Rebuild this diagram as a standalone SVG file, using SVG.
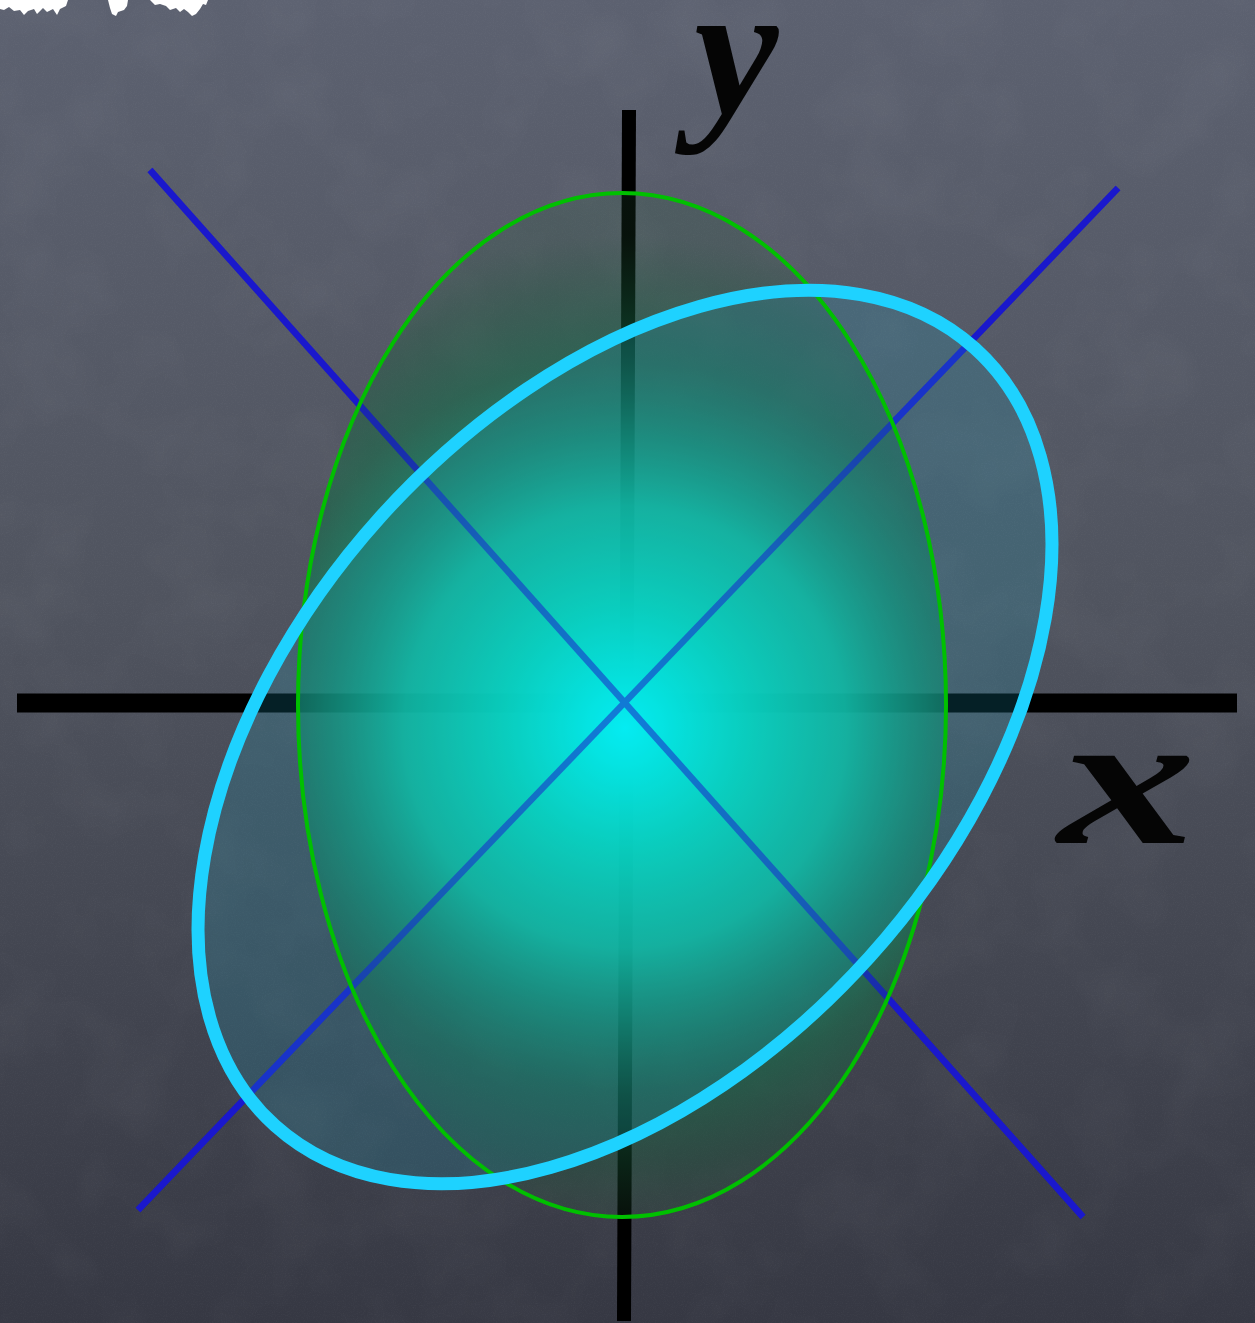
<svg xmlns="http://www.w3.org/2000/svg" width="1255" height="1323" viewBox="0 0 1255 1323">
  <style>
    .axis { stroke: #000; fill: none; }
    .diag { stroke: #1a18cc; stroke-width: 6.5; fill: none; }
    .label { font-family: "Liberation Serif", "DejaVu Serif", serif; font-style: italic; font-weight: bold; fill: #050505; }
    .chalk { fill: #ffffff; }
  </style>
  <defs>
    <linearGradient id="bg" x1="0" y1="0" x2="0" y2="1">
      <stop offset="0" stop-color="#5c6170"/>
      <stop offset="0.45" stop-color="#50545f"/>
      <stop offset="1" stop-color="#363843"/>
    </linearGradient>
    <radialGradient id="glow" gradientUnits="userSpaceOnUse" cx="625" cy="725" r="490" fx="625" fy="728">
      <stop offset="0" stop-color="#00ffff" stop-opacity="1"/>
      <stop offset="0.08" stop-color="#00f4ea" stop-opacity="1"/>
      <stop offset="0.25" stop-color="#05dcc0" stop-opacity="0.97"/>
      <stop offset="0.45" stop-color="#0fbe9e" stop-opacity="0.92"/>
      <stop offset="0.6" stop-color="#139070" stop-opacity="0.8"/>
      <stop offset="0.75" stop-color="#166a48" stop-opacity="0.6"/>
      <stop offset="0.9" stop-color="#1a5a3a" stop-opacity="0.38"/>
      <stop offset="1" stop-color="#245838" stop-opacity="0.2"/>
    </radialGradient>
    <clipPath id="greenClip">
      <ellipse cx="622" cy="705" rx="324" ry="512"/>
    </clipPath>
    <filter id="noise" x="0" y="0" width="100%" height="100%">
      <feTurbulence type="fractalNoise" baseFrequency="0.9" numOctaves="2" seed="3"/>
      <feColorMatrix type="matrix" values="0 0 0 0 1  0 0 0 0 1  0 0 0 0 1  1.2 0 0 0 -0.55"/>
    </filter>
    <filter id="smudge" x="0" y="0" width="100%" height="100%">
      <feTurbulence type="fractalNoise" baseFrequency="0.012" numOctaves="3" seed="7"/>
      <feColorMatrix type="matrix" values="0 0 0 0 1  0 0 0 0 1  0 0 0 0 1  1.4 0 0 0 -0.6"/>
    </filter>
  </defs>

  <g id="background">
    <rect x="0" y="0" width="1255" height="1323" fill="url(#bg)"/>
    <rect x="0" y="0" width="1255" height="1323" filter="url(#smudge)" opacity="0.05"/>
    <rect x="0" y="0" width="1255" height="1323" filter="url(#noise)" opacity="0.06"/>
  </g>

  <g id="chalk-remnants">
    <path class="chalk" d="M0 0 H68 L66 6 L60 9 L57 15 L53 9 L47 12 L43 8 L37 14 L34 9 L28 11 L24 15 L20 10 L14 11 L9 7 L4 10 L0 9 Z"/>
    <path class="chalk" d="M108 0 H128 L127 6 L124 10 L118 12 L116 16 L112 14 L110 8 Z"/>
    <path class="chalk" d="M150 0 H208 L206 5 L203 4 L200 9 L196 14 L192 16 L188 12 L184 9 L180 12 L176 8 L170 10 L166 6 L160 4 L155 5 Z"/>
  </g>

  <g id="axes">
    <line id="y-axis" class="axis" x1="629" y1="110" x2="624" y2="1321" stroke-width="14"/>
    <line id="x-axis" class="axis" x1="17" y1="703" x2="1237" y2="703" stroke-width="19"/>
  </g>

  <g id="connectors">
    <line id="diag-a" class="diag" x1="150" y1="170" x2="1083" y2="1217"/>
    <line id="diag-b" class="diag" x1="1118" y1="188" x2="138" y2="1210"/>
  </g>

  <g id="glow">
    <rect x="290" y="190" width="665" height="1035" fill="url(#glow)" clip-path="url(#greenClip)"/>
  </g>

  <g id="connectors-overlay" opacity="0.6">
    <line class="diag" x1="150" y1="170" x2="1083" y2="1217"/>
    <line class="diag" x1="1118" y1="188" x2="138" y2="1210"/>
  </g>

  <g id="cyan-fill">
    <ellipse cx="625" cy="737" rx="523" ry="329" transform="rotate(-48 625 737)" fill="#18a0bc" fill-opacity="0.2"/>
  </g>

  <g id="green-ellipse">
    <ellipse cx="622" cy="705" rx="324" ry="512" fill="none" stroke="#00c000" stroke-width="4"/>
  </g>

  <g id="cyan-ellipse">
    <ellipse cx="625" cy="737" rx="523" ry="329" transform="rotate(-48 625 737)" fill="none" stroke="#1ed2ff" stroke-width="13"/>
  </g>

  <g id="label-y">
    <text class="label" x="694" y="114" font-size="190">y</text>
  </g>

  <g id="label-x">
    <text class="label" x="1058" y="843" font-size="190" textLength="138" lengthAdjust="spacingAndGlyphs">x</text>
  </g>
</svg>
